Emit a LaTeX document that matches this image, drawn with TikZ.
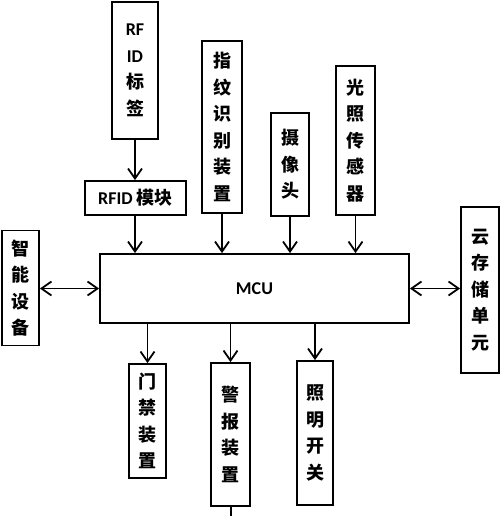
\documentclass[tikz,border=0pt]{standalone}
\usepackage{fontspec}
\setmainfont{Carlito}
\newfontfamily\cjk{Noto Sans CJK SC}
\usetikzlibrary{arrows.meta}
\newcommand{\zh}[1]{{\cjk\bfseries\fontsize{18}{26.5}\selectfont #1}}
\begin{document}
\begin{tikzpicture}[x=1pt,y=-1pt,
  box/.style={draw, line width=1.8pt, inner sep=0pt, align=center,
    font=\fontsize{18}{26.5}\selectfont\bfseries},
  arr/.style={line width=1.8pt, -{Straight Barb[length=10pt,width=14pt,line width=1.8pt]}},
  darr/.style={line width=1.8pt, {Straight Barb[length=10pt,width=14pt,line width=1.8pt]}-{Straight Barb[length=10pt,width=14pt,line width=1.8pt]}}]
\useasboundingbox (0,0) rectangle (500,516);
\fill[white] (0,0) rectangle (500,516);
% nodes
\node[box, minimum width=46pt, minimum height=137pt] (tag) at (135,70.5) {RF\\ID\\\zh{标}\\\zh{签}};
\node[box, minimum width=101pt, minimum height=34pt] (mod) at (135.5,198) {RFID \zh{模块}};
\node[box, minimum width=40pt, minimum height=172pt] (fin) at (222,127) {\zh{指}\\\zh{纹}\\\zh{识}\\\zh{别}\\\zh{装}\\\zh{置}};
\node[box, minimum width=38pt, minimum height=103pt] (cam) at (290,164.5) {\zh{摄}\\\zh{像}\\\zh{头}};
\node[box, minimum width=39pt, minimum height=149pt] (lig) at (355.5,140.5) {\zh{光}\\\zh{照}\\\zh{传}\\\zh{感}\\\zh{器}};
\node[box, minimum width=309pt, minimum height=69pt] (mcu) at (254.5,288.5) {MCU};
\node[box, minimum width=37pt, minimum height=115pt] (sma) at (20.5,288) {\zh{智}\\\zh{能}\\\zh{设}\\\zh{备}};
\node[box, minimum width=38pt, minimum height=166pt] (clo) at (480,290) {\zh{云}\\\zh{存}\\\zh{储}\\\zh{单}\\\zh{元}};
\node[box, minimum width=37pt, minimum height=114pt] (door) at (147.5,421) {\zh{门}\\\zh{禁}\\\zh{装}\\\zh{置}};
\node[box, minimum width=39pt, minimum height=143pt] (ala) at (230.5,434.5) {\zh{警}\\\zh{报}\\\zh{装}\\\zh{置}};
\node[box, minimum width=36pt, minimum height=144pt] (swi) at (315,433) {\zh{照}\\\zh{明}\\\zh{开}\\\zh{关}};
\coordinate (bot) at (231,516);
% connectors
\draw[arr] (tag.south) -- (mod.north -| tag.south);
\draw[arr] (mod.south -| tag.south) -- (mcu.north -| tag.south);
\draw[arr] (fin.south) -- (mcu.north -| fin.south);
\draw[arr] (cam.south) -- (mcu.north -| cam.south);
\draw[arr] (lig.south) -- (mcu.north -| lig.south);
\draw[arr] (mcu.south -| door.north) -- (door.north);
\draw[arr] (mcu.south -| ala.north) -- (ala.north);
\draw[arr] (mcu.south -| swi.north) -- (swi.north);
\draw[darr] (sma.east |- mcu.west) -- (mcu.west);
\draw[darr] (mcu.east) -- (clo.west |- mcu.east);
\draw[line width=1.8pt] (ala.south -| bot) -- (bot);
\end{tikzpicture}
\end{document}
